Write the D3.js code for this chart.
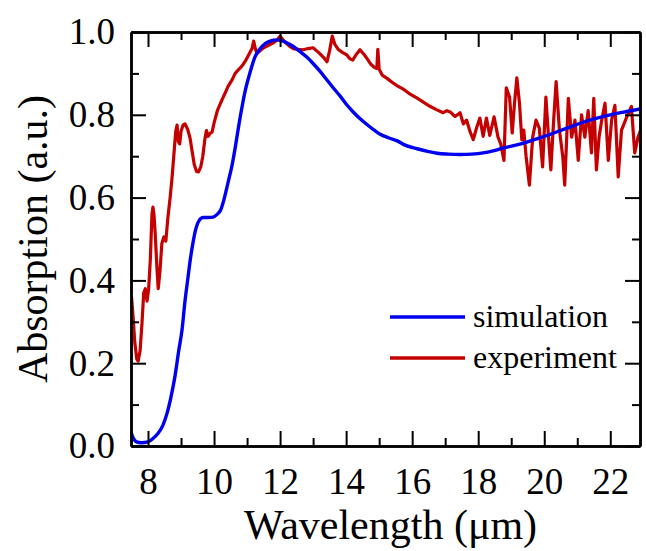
<!DOCTYPE html>
<html>
<head>
<meta charset="utf-8">
<script src="https://cdn.jsdelivr.net/npm/d3@7"></script>
<style>
	body { margin: 0; background: #fff; }
	text { font-family: "Liberation Serif", "Times New Roman", serif; fill: #000; }
</style>
</head>
<body>
<script>
const w = 646;
const h = 551;
const margin = { top: 32, right: 6, bottom: 105, left: 131 };

// * DATA
const simWavelength = [7.48, 7.55, 7.65, 7.8, 8.0, 8.15, 8.3, 8.45, 8.58, 8.7, 8.82, 8.93, 9.03, 9.12, 9.2, 9.28, 9.36, 9.45, 9.55, 9.67, 9.8, 9.97, 10.1, 10.2, 10.3, 10.42, 10.55, 10.65, 10.75, 10.85, 10.95, 11.1, 11.24, 11.4, 11.55, 11.7, 11.9, 12.05, 12.2, 12.4, 12.6, 12.8, 13.0, 13.2, 13.42, 13.6, 13.82, 14.0, 14.2, 14.4, 14.64, 14.85, 15.03, 15.3, 15.55, 15.75, 16.15, 16.5, 16.76, 17.1, 17.45, 17.8, 18.15, 18.45, 18.76, 19.2, 19.58, 20.0, 20.39, 20.8, 21.18, 21.6, 22.0, 22.5, 22.95];
const simAbsorption = [0.035, 0.02, 0.01, 0.008, 0.01, 0.018, 0.03, 0.05, 0.08, 0.12, 0.17, 0.23, 0.28, 0.35, 0.40, 0.45, 0.49, 0.525, 0.545, 0.552, 0.552, 0.553, 0.56, 0.57, 0.595, 0.635, 0.68, 0.725, 0.775, 0.82, 0.86, 0.905, 0.94, 0.96, 0.972, 0.978, 0.981, 0.979, 0.974, 0.965, 0.953, 0.94, 0.924, 0.906, 0.884, 0.866, 0.845, 0.826, 0.808, 0.792, 0.776, 0.763, 0.753, 0.744, 0.737, 0.728, 0.718, 0.711, 0.707, 0.705, 0.704, 0.705, 0.708, 0.713, 0.72, 0.728, 0.737, 0.748, 0.759, 0.771, 0.782, 0.792, 0.8, 0.808, 0.815];

const expWavelength = [7.5, 7.55, 7.6, 7.66, 7.7, 7.76, 7.82, 7.87, 7.92, 7.97, 8.02, 8.07, 8.12, 8.15, 8.18, 8.22, 8.27, 8.31, 8.36, 8.42, 8.48, 8.54, 8.6, 8.67, 8.73, 8.78, 8.84, 8.88, 8.92, 8.96, 9.0, 9.06, 9.12, 9.2, 9.27, 9.33, 9.4, 9.47, 9.53, 9.6, 9.66, 9.72, 9.77, 9.82, 9.88, 9.94, 10.0, 10.1, 10.24, 10.35, 10.42, 10.55, 10.64, 10.75, 10.85, 10.95, 11.05, 11.15, 11.2, 11.25, 11.3, 11.4, 11.5, 11.65, 11.8, 11.92, 12.0, 12.1, 12.2, 12.3, 12.4, 12.55, 12.7, 12.85, 13.0, 13.1, 13.2, 13.3, 13.42, 13.5, 13.58, 13.66, 13.76, 13.9, 14.03, 14.12, 14.2, 14.3, 14.42, 14.55, 14.64, 14.75, 14.85, 14.93, 14.96, 15.0, 15.1, 15.24, 15.4, 15.55, 15.73, 15.9, 16.15, 16.35, 16.55, 16.75, 16.94, 17.05, 17.15, 17.3, 17.45, 17.55, 17.65, 17.75, 17.85, 17.95, 18.05, 18.15, 18.25, 18.35, 18.48, 18.6, 18.68, 18.78, 18.85, 18.95, 19.03, 19.1, 19.17, 19.25, 19.32, 19.38, 19.45, 19.55, 19.65, 19.75, 19.85, 19.95, 20.05, 20.13, 20.2, 20.28, 20.36, 20.46, 20.56, 20.62, 20.73, 20.83, 20.93, 21.03, 21.13, 21.23, 21.33, 21.43, 21.5, 21.58, 21.66, 21.74, 21.84, 21.94, 22.04, 22.14, 22.24, 22.34, 22.5, 22.64, 22.74, 22.84, 22.92];
const expAbsorption = [0.36, 0.31, 0.25, 0.21, 0.205, 0.23, 0.30, 0.37, 0.38, 0.35, 0.38, 0.45, 0.56, 0.577, 0.56, 0.51, 0.43, 0.38, 0.42, 0.49, 0.505, 0.495, 0.55, 0.6, 0.65, 0.70, 0.76, 0.775, 0.735, 0.73, 0.76, 0.775, 0.778, 0.765, 0.745, 0.715, 0.68, 0.663, 0.662, 0.675, 0.70, 0.74, 0.762, 0.748, 0.755, 0.758, 0.78, 0.81, 0.836, 0.855, 0.868, 0.885, 0.90, 0.91, 0.918, 0.93, 0.945, 0.96, 0.978, 0.96, 0.948, 0.955, 0.962, 0.968, 0.974, 0.982, 0.99, 0.98, 0.972, 0.965, 0.96, 0.958, 0.957, 0.96, 0.962, 0.955, 0.948, 0.94, 0.928, 0.955, 0.99, 0.97, 0.958, 0.95, 0.944, 0.935, 0.932, 0.945, 0.957, 0.945, 0.935, 0.922, 0.915, 0.912, 0.958, 0.91, 0.895, 0.888, 0.878, 0.87, 0.862, 0.852, 0.84, 0.83, 0.82, 0.812, 0.805, 0.81, 0.807, 0.796, 0.805, 0.778, 0.787, 0.76, 0.74, 0.768, 0.792, 0.748, 0.792, 0.75, 0.795, 0.746, 0.73, 0.69, 0.865, 0.843, 0.756, 0.828, 0.889, 0.828, 0.74, 0.763, 0.70, 0.63, 0.746, 0.787, 0.768, 0.674, 0.843, 0.746, 0.667, 0.78, 0.88, 0.763, 0.70, 0.63, 0.84, 0.746, 0.787, 0.69, 0.80, 0.746, 0.81, 0.708, 0.84, 0.667, 0.746, 0.787, 0.828, 0.69, 0.787, 0.823, 0.65, 0.763, 0.795, 0.82, 0.708, 0.746, 0.763];

const xMajor = [8, 10, 12, 14, 16, 18, 20, 22];
const xMinor = [9, 11, 13, 15, 17, 19, 21];
const yMajor = [0.0, 0.2, 0.4, 0.6, 0.8, 1.0];
const yMinor = [0.1, 0.3, 0.5, 0.7, 0.9];

const seriesNames = ["simulation", "experiment"];
const seriesColors = ["#0000f0", "#c40000"];

const simData = simWavelength.map((d, i) => [d, simAbsorption[i]]);
const expData = expWavelength.map((d, i) => [d, expAbsorption[i]]);

// * SVG BASE SETUP
const svg = d3.select("body").append("svg").attr("width", w).attr("height", h);

// * SCALE FUNCTIONS
const xScale = d3.scaleLinear().domain([7.485, 22.9]).range([margin.left, w - margin.right]);
const yScale = d3.scaleLinear().domain([0, 1]).range([h - margin.bottom, margin.top]);

// * LINES
svg.append("clipPath").attr("id", "plot-clip")
	.append("rect")
	.attr("x", margin.left).attr("y", margin.top - 4)
	.attr("width", w - margin.left - margin.right)
	.attr("height", h - margin.top - margin.bottom + 4);

const line = d3.line().x((d) => xScale(d[0])).y((d) => yScale(d[1]));

const plot = svg.append("g").attr("clip-path", "url(#plot-clip)");
plot.append("path").datum(expData)
	.attr("d", line).attr("fill", "none")
	.attr("stroke", seriesColors[1]).attr("stroke-width", 3.2)
	.attr("stroke-linejoin", "round");
plot.append("path").datum(simData)
	.attr("d", d3.line().curve(d3.curveMonotoneX).x((d) => xScale(d[0])).y((d) => yScale(d[1])))
	.attr("fill", "none")
	.attr("stroke", seriesColors[0]).attr("stroke-width", 3.4);

// * AXES
const bottom = h - margin.bottom;
const right = w - margin.right;

function styleAxis(g) {
	g.select(".domain").attr("stroke-width", 2.5);
	g.selectAll(".tick line").attr("stroke-width", 2);
	g.selectAll("text").attr("font-family", "Liberation Serif").attr("fill", "#000");
}

svg.append("g").attr("transform", "translate(0," + bottom + ")")
	.call(d3.axisBottom(xScale).tickValues(xMajor).tickSize(-15).tickSizeOuter(0).tickPadding(22).tickFormat(d3.format("d")))
	.call(styleAxis)
	.selectAll("text").attr("font-size", 37);
svg.append("g").attr("transform", "translate(0," + bottom + ")")
	.call(d3.axisBottom(xScale).tickValues(xMinor).tickSize(-8).tickSizeOuter(0).tickFormat(""))
	.call(styleAxis);
svg.append("g").attr("transform", "translate(0," + margin.top + ")")
	.call(d3.axisTop(xScale).tickValues(xMajor).tickSize(-15).tickSizeOuter(0).tickFormat(""))
	.call(styleAxis);
svg.append("g").attr("transform", "translate(0," + margin.top + ")")
	.call(d3.axisTop(xScale).tickValues(xMinor).tickSize(-8).tickSizeOuter(0).tickFormat(""))
	.call(styleAxis);

svg.append("g").attr("transform", "translate(" + margin.left + ",0)")
	.call(d3.axisLeft(yScale).tickValues(yMajor).tickSize(-15).tickSizeOuter(0).tickPadding(16).tickFormat(d3.format(".1f")))
	.call(styleAxis)
	.selectAll("text").attr("font-size", 37);
svg.append("g").attr("transform", "translate(" + margin.left + ",0)")
	.call(d3.axisLeft(yScale).tickValues(yMinor).tickSize(-8).tickSizeOuter(0).tickFormat(""))
	.call(styleAxis);
svg.append("g").attr("transform", "translate(" + right + ",0)")
	.call(d3.axisRight(yScale).tickValues(yMajor).tickSize(-15).tickSizeOuter(0).tickFormat(""))
	.call(styleAxis);
svg.append("g").attr("transform", "translate(" + right + ",0)")
	.call(d3.axisRight(yScale).tickValues(yMinor).tickSize(-8).tickSizeOuter(0).tickFormat(""))
	.call(styleAxis);

// * AXIS TITLES
svg.append("text")
	.attr("x", (margin.left + right) / 2 + 5)
	.attr("y", 539)
	.attr("text-anchor", "middle")
	.attr("font-size", 42)
	.text("Wavelength (μm)");
svg.append("text")
	.attr("transform", "translate(47," + (margin.top + bottom) / 2 + ") rotate(-90)")
	.attr("text-anchor", "middle")
	.attr("font-size", 42)
	.text("Absorption (a.u.)");

// * LEGEND
const legend = svg.append("g").attr("transform", "translate(390,317)");
seriesNames.forEach((name, i) => {
	const row = legend.append("g").attr("transform", "translate(0," + i * 41 + ")");
	row.append("line").attr("x1", 0).attr("x2", 75).attr("y1", 0).attr("y2", 0)
		.attr("stroke", seriesColors[i]).attr("stroke-width", 3.4);
	row.append("text").attr("x", 83).attr("y", 10).attr("font-size", 32).text(name);
});
</script>
</body>
</html>
